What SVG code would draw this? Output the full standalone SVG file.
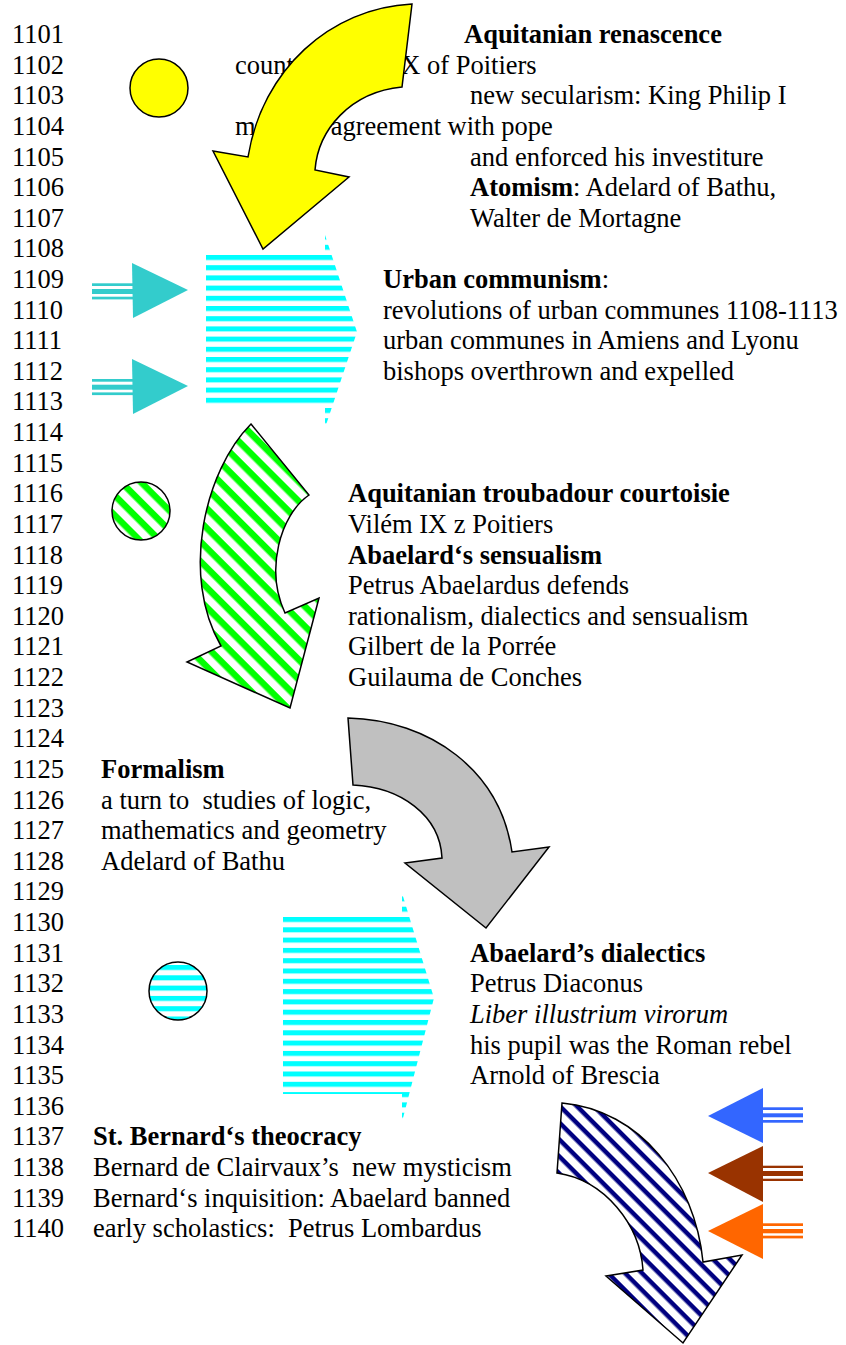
<svg xmlns="http://www.w3.org/2000/svg" width="846" height="1345" viewBox="0 0 846 1345">
<style>
text{font-family:"Liberation Serif","Times New Roman",serif;font-size:26.5px;fill:#000}
.b{font-weight:bold}
.i{font-style:italic}
.ol{stroke:#000;stroke-width:1.5;stroke-linejoin:miter}
</style>
<defs>
<pattern id="cyanA" patternUnits="userSpaceOnUse" x="0" y="255" width="20" height="10.2"><rect x="0" y="0" width="20" height="5" fill="#00FFFF"/></pattern>
<pattern id="cyanB" patternUnits="userSpaceOnUse" x="0" y="917" width="20" height="10.3"><rect x="0" y="0" width="20" height="5" fill="#00FFFF"/></pattern>
<pattern id="cyanC" patternUnits="userSpaceOnUse" x="0" y="965" width="20" height="10.3"><rect x="0" y="0" width="20" height="5" fill="#00FFFF"/></pattern>
<pattern id="green" patternUnits="userSpaceOnUse" width="20" height="14" patternTransform="rotate(45)"><rect x="0" y="0" width="20" height="6.5" fill="#00FF00"/></pattern>
<pattern id="navy" patternUnits="userSpaceOnUse" width="20" height="12" patternTransform="rotate(45)"><rect x="0" y="0" width="20" height="4.5" fill="#000080"/></pattern>
</defs>

<g id="years">
<text x="12" y="43">1101</text><text x="12" y="73.6">1102</text><text x="12" y="104.2">1103</text><text x="12" y="134.9">1104</text><text x="12" y="165.5">1105</text><text x="12" y="196.1">1106</text><text x="12" y="226.7">1107</text><text x="12" y="257.3">1108</text><text x="12" y="288">1109</text><text x="12" y="318.6">1110</text>
<text x="12" y="349.2">1111</text><text x="12" y="379.8">1112</text><text x="12" y="410.4">1113</text><text x="12" y="441.1">1114</text><text x="12" y="471.7">1115</text><text x="12" y="502.3">1116</text><text x="12" y="532.9">1117</text><text x="12" y="563.5">1118</text><text x="12" y="594.2">1119</text><text x="12" y="624.8">1120</text>
<text x="12" y="655.4">1121</text><text x="12" y="686">1122</text><text x="12" y="716.6">1123</text><text x="12" y="747.3">1124</text><text x="12" y="777.9">1125</text><text x="12" y="808.5">1126</text><text x="12" y="839.1">1127</text><text x="12" y="869.7">1128</text><text x="12" y="900.4">1129</text><text x="12" y="931">1130</text>
<text x="12" y="961.6">1131</text><text x="12" y="992.2">1132</text><text x="12" y="1022.8">1133</text><text x="12" y="1053.5">1134</text><text x="12" y="1084.1">1135</text><text x="12" y="1114.7">1136</text><text x="12" y="1145.3">1137</text><text x="12" y="1175.9">1138</text><text x="12" y="1206.6">1139</text><text x="12" y="1237.2">1140</text>
</g>

<g id="text-1101">
<text x="464" y="43" class="b">Aquitanian renascence</text>
<text x="235" y="73.6">count William IX of Poitiers</text>
<text x="470" y="104.2">new secularism: King Philip I</text>
<text x="235" y="134.9">made an agreement with pope</text>
<text x="470" y="165.5">and enforced his investiture</text>
<text x="470" y="196.1"><tspan class="b">Atomism</tspan>: Adelard of Bathu,</text>
<text x="470" y="226.7">Walter de Mortagne</text>
</g>

<g id="text-1109">
<text x="383" y="288"><tspan class="b">Urban communism</tspan>:</text>
<text x="383" y="318.6">revolutions of urban communes 1108-1113</text>
<text x="383" y="349.2">urban communes in Amiens and Lyonu</text>
<text x="383" y="379.8">bishops overthrown and expelled</text>
</g>

<g id="text-1116">
<text x="348" y="502.3" class="b">Aquitanian troubadour courtoisie</text>
<text x="348" y="532.9">Vilém IX z Poitiers</text>
<text x="348" y="563.5" class="b">Abaelard‘s sensualism</text>
<text x="348" y="594.2">Petrus Abaelardus defends</text>
<text x="348" y="624.8">rationalism, dialectics and sensualism</text>
<text x="348" y="655.4">Gilbert de la Porrée</text>
<text x="348" y="686">Guilauma de Conches</text>
</g>

<g id="text-1125">
<text x="101" y="777.9" class="b">Formalism</text>
<text x="101" y="808.5" xml:space="preserve">a turn to  studies of logic,</text>
<text x="101" y="839.1">mathematics and geometry</text>
<text x="101" y="869.7">Adelard of Bathu</text>
</g>

<g id="text-1131">
<text x="470" y="961.6" class="b">Abaelard’s dialectics</text>
<text x="470" y="992.2">Petrus Diaconus</text>
<text x="470" y="1022.8" class="i">Liber illustrium virorum</text>
<text x="470" y="1053.5">his pupil was the Roman rebel</text>
<text x="470" y="1084.1">Arnold of Brescia</text>
</g>

<g id="text-1137">
<text x="93" y="1145.3" class="b">St. Bernard‘s theocracy</text>
<text x="93" y="1175.9" xml:space="preserve">Bernard de Clairvaux’s  new mysticism</text>
<text x="93" y="1206.6">Bernard‘s inquisition: Abaelard banned</text>
<text x="93" y="1237.2" xml:space="preserve">early scholastics:  Petrus Lombardus</text>
</g>

<g id="circle-yellow"><circle cx="159" cy="88" r="29" fill="#FFFF00" class="ol"/></g>
<g id="arrow-yellow"><path d="M412,4 L402,87 C350,92 318,130 315,170 L349,177 L263,249 L213,151 L248,157 C262,70 330,8 412,4 Z" fill="#FFFF00" class="ol"/></g>

<g id="arrows-teal" fill="#33CCCC">
<rect x="92" y="283.3" width="42" height="2.7"/><rect x="92" y="289" width="42" height="5"/><rect x="92" y="296.7" width="42" height="2.7"/>
<polygon points="132,263 188,290 133,318"/>
<rect x="92" y="379" width="42" height="2.7"/><rect x="92" y="384.7" width="42" height="5"/><rect x="92" y="392.4" width="42" height="2.7"/>
<polygon points="132,359 188,386 133,414"/>
</g>

<g id="arrow-cyan-1109"><polygon points="206,255 325,255 325,235 357,332 325,428 325,408 206,408" fill="url(#cyanA)"/></g>

<g id="circle-green"><circle cx="141" cy="511" r="29" fill="url(#green)" class="ol"/></g>
<g id="arrow-green"><path d="M251,424 L309,495 C280,515 265,570 285,613 L319,598 L290,708 L187,662 L221,646 C180,575 205,470 251,424 Z" fill="url(#green)" class="ol"/></g>

<g id="arrow-gray"><path d="M348,718 C430,720 500,770 512,852 L549,847 L486,928 L405,863 L442,858 C440,815 400,787 353,785 Z" fill="#C0C0C0" class="ol"/></g>

<g id="circle-cyan"><circle cx="178" cy="991" r="29" fill="url(#cyanC)" class="ol"/></g>
<g id="arrow-cyan-1131"><polygon points="283,917 402,917 402,893 434,998 402,1122 402,1094 283,1094" fill="url(#cyanB)"/></g>

<g id="arrow-navy"><path d="M562,1103 C640,1110 695,1180 703,1262 L742,1255 L683,1343 L606,1276 L643,1270 C640,1225 605,1180 557,1173 Z" fill="url(#navy)" class="ol"/></g>

<g id="arrows-right">
<g fill="#3366FF"><polygon points="708,1116 763,1088 763,1143"/><rect x="762" y="1107.3" width="41" height="2.7"/><rect x="762" y="1113.3" width="41" height="4"/><rect x="762" y="1120" width="41" height="2.7"/></g>
<g fill="#993300"><polygon points="708,1173 763,1146 763,1202"/><rect x="762" y="1165.7" width="41" height="2.3"/><rect x="762" y="1171" width="41" height="5"/><rect x="762" y="1178.7" width="41" height="2.3"/></g>
<g fill="#FF6600"><polygon points="708,1231 763,1204 763,1259"/><rect x="762" y="1223.3" width="41" height="2.7"/><rect x="762" y="1229" width="41" height="4.3"/><rect x="762" y="1235.7" width="41" height="2.7"/></g>
</g>
</svg>
